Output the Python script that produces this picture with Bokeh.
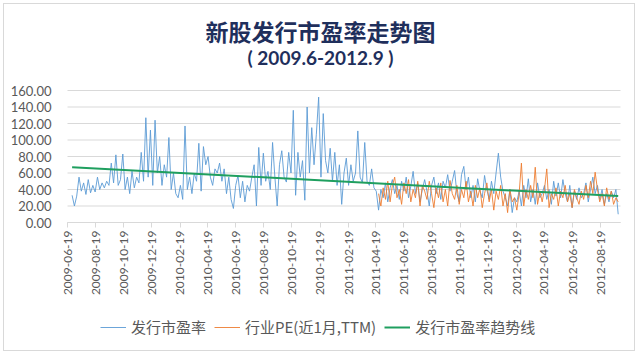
import math
from datetime import datetime, timedelta
import pandas as pd
from bokeh.plotting import figure
from bokeh.models import (FixedTicker, DatetimeTickFormatter, NumeralTickFormatter,
                          Range1d, Label, Legend, LegendItem)
from bokeh.embed import file_html
from bokeh.resources import INLINE

# ---------------- data ----------------
title_text = "新股发行市盈率走势图"
subtitle_text = "( 2009.6-2012.9 )"
series_names = ["发行市盈率", "行业PE(近1月,TTM)", "发行市盈率趋势线"]

x_tick_labels = ["2009-06-19", "2009-08-19", "2009-10-19", "2009-12-19",
                 "2010-02-19", "2010-04-19", "2010-06-19", "2010-08-19",
                 "2010-10-19", "2010-12-19", "2011-02-19", "2011-04-19",
                 "2011-06-19", "2011-08-19", "2011-10-19", "2011-12-19",
                 "2012-02-19", "2012-04-19", "2012-06-19", "2012-08-19"]
y_ticks = [0, 20, 40, 60, 80, 100, 120, 140, 160]
x_start, x_end = "2009-06-19", "2012-10-01"

ipo_pe_start = "2009-06-29"
ipo_pe = [
    33, 20, 32, 55, 38, 48, 34, 52, 36, 45, 37, 55, 40,
    48, 42, 50, 45,
    72, 48, 82, 45, 52, 83, 40,
    55, 35, 62, 42, 55, 48,
    85, 50, 127, 55, 112, 45, 124,
    60, 80, 45, 70, 55, 103, 40, 60, 35,
    30, 45, 28, 117, 40, 55, 35, 60, 50,
    96, 38, 92, 70, 80, 55, 45, 65,
    60, 72, 50, 65, 35, 55, 28, 17, 45, 57, 30,
    50, 25, 45, 38, 55, 70,
    20, 91, 45, 84, 50, 62, 40, 97, 55, 20, 70, 87, 55, 49, 85, 60, 136, 33, 85, 55, 75,
    27, 140, 60, 115, 70, 107, 152, 55, 132, 75, 60, 90, 50, 85, 45, 70, 22, 60, 78, 45,
    70, 50, 60, 111, 55, 48, 97, 50, 45, 65, 42, 38, 15, 40,
    30, 48, 25, 42, 52, 35, 45, 28, 50, 38, 55, 30, 44, 62, 35, 48, 25, 40, 52, 38,
    20, 45, 55, 35, 48, 28, 50, 42, 58, 38, 50, 63, 35, 25,
    58, 68, 40, 55, 30, 45, 25, 53, 38, 30, 57, 40, 28, 50, 35, 60, 84, 55, 38, 30,
    20, 40, 12, 30, 25, 38, 20, 45, 30, 53, 25, 40, 22, 48, 30,
    35, 45, 28, 40, 22, 50, 32, 48, 30, 52, 35, 25, 45, 18, 38, 28, 42, 30, 35, 48,
    25, 40, 55, 35, 45, 28, 40, 22, 35, 25, 38, 30, 40, 10,
]

# Industry P/E (near 1 month, TTM), sampled every 5 days
industry_pe_start = "2011-04-25"
industry_pe = [
    35, 20, 42, 28, 50, 25, 45, 55, 30, 40, 22,
    48, 35, 52, 25, 40, 30, 50, 20, 45, 38,
    28, 50, 35, 18, 42, 30, 48, 25, 40, 20,
    51, 35, 28, 45, 22, 40, 30, 50, 25, 38,
    20, 45, 30, 42, 18, 35, 48, 25, 40, 15,
    38, 28, 45, 20, 35, 12, 40, 25, 30, 15,
    35, 72, 20, 40, 28, 45, 30, 67, 22, 38,
    25, 40, 65, 18, 35, 28, 42, 20, 38, 30,
    45, 25, 35, 18, 40, 30, 22, 38, 28, 45,
    30, 50, 35, 61, 40, 25, 35, 20, 42, 28,
    38, 22, 30, 25,
]

# Linear trend line of IPO P/E (end points)
trend_values = [67.0, 32.0]

# ---------------- build ----------------
ipo_dates = pd.date_range(ipo_pe_start, periods=len(ipo_pe), freq="5D")
ind_dates = pd.date_range(industry_pe_start, periods=len(industry_pe), freq="5D")
trend_dates = [ipo_dates[0], ipo_dates[-1]]

LAT = "Lato, 'Noto Sans CJK SC', sans-serif"
CJK = "'Noto Sans CJK SC', sans-serif"
GRAY = "#595959"

W, H = 632, 348
PLOT_L, PLOT_R, PLOT_T, PLOT_B = 63, 616, 86, 218   # plot area in canvas pixels
xs = datetime.fromisoformat(x_start)
xe = datetime.fromisoformat(x_end)
days_per_px = (xe - xs).days / (PLOT_R - PLOT_L)
y_per_px = y_ticks[-1] / (PLOT_B - PLOT_T)

# The frame covers the whole canvas; both axes are pinned inside it, so that the
# titles, date labels and legend can all be placed freely.
p = figure(width=W, height=H, x_axis_type="datetime",
           output_backend="svg", toolbar_location=None,
           x_range=Range1d(xs - timedelta(days=PLOT_L * days_per_px),
                           xe + timedelta(days=(W - PLOT_R) * days_per_px)),
           y_range=Range1d(-(H - PLOT_B) * y_per_px, PLOT_B * y_per_px),
           min_border_left=0, min_border_right=0, min_border_top=0, min_border_bottom=0)
p.styles = {"margin": "3px", "border": "1px solid #D9D9D9"}
p.outline_line_color = None
p.background_fill_color = "white"
p.border_fill_color = "white"

xs_ms = pd.Timestamp(xs).value / 1e6
xe_ms = pd.Timestamp(xe).value / 1e6

# horizontal gridlines across the plot area only
p.segment(x0=[xs] * len(y_ticks), x1=[xe] * len(y_ticks), y0=y_ticks, y1=y_ticks,
          line_color="#D9D9D9", line_width=1)

r_ipo = p.line(ipo_dates, ipo_pe, line_color="#5B9BD5", line_width=0.9)
r_ind = p.line(ind_dates, industry_pe, line_color="#ED7D31", line_width=0.9)
r_trend = p.line(trend_dates, trend_values, line_color="#1F9F5F", line_width=2)

# axes
tick_ms = [pd.Timestamp(d).value // 10**6 for d in x_tick_labels]
p.xaxis.fixed_location = 0
p.xaxis.bounds = (xs_ms, xe_ms)
p.xaxis.ticker = FixedTicker(ticks=tick_ms)
fmt = "%Y-%m-%d"
p.xaxis.formatter = DatetimeTickFormatter(milliseconds=fmt, seconds=fmt, minsec=fmt,
                                          minutes=fmt, hourmin=fmt, hours=fmt,
                                          days=fmt, months=fmt, years=fmt)
p.xaxis.major_label_orientation = math.pi / 2
p.xaxis.axis_line_color = "#D9D9D9"
p.xaxis.major_tick_line_color = "#D9D9D9"
p.xaxis.major_tick_out = 5
p.xaxis.major_tick_in = 0
p.xaxis.minor_tick_line_color = None
p.xaxis.major_label_standoff = 3
p.xaxis.major_label_text_font = LAT
p.xaxis.major_label_text_font_size = "12px"
p.xaxis.major_label_text_color = GRAY

p.yaxis.fixed_location = xs_ms
p.yaxis.bounds = (0, y_ticks[-1])
p.yaxis.ticker = FixedTicker(ticks=y_ticks)
p.yaxis.formatter = NumeralTickFormatter(format="0.00")
p.yaxis.axis_line_color = None
p.yaxis.major_tick_line_color = None
p.yaxis.minor_tick_line_color = None
p.yaxis.major_label_standoff = 10
p.yaxis.major_label_text_font = LAT
p.yaxis.major_label_text_font_size = "13px"
p.yaxis.major_label_text_color = GRAY

p.xgrid.grid_line_color = None
p.ygrid.grid_line_color = None

# titles
p.add_layout(Label(x=316, y=H - 26, x_units="screen", y_units="screen", text=title_text,
                   text_align="center", text_baseline="middle", text_font=CJK,
                   text_font_size="23px", text_font_style="bold", text_color="#1F2F5C"))
p.add_layout(Label(x=316, y=H - 53, x_units="screen", y_units="screen", text=subtitle_text,
                   text_align="center", text_baseline="middle", text_font=LAT,
                   text_font_size="19px", text_font_style="bold", text_color="#1F2F5C"))

legend = Legend(items=[LegendItem(label=series_names[0], renderers=[r_ipo]),
                       LegendItem(label=series_names[1], renderers=[r_ind]),
                       LegendItem(label=series_names[2], renderers=[r_trend])],
                orientation="horizontal", location=(96, 15),
                border_line_color=None, background_fill_alpha=0,
                label_text_font=CJK, label_text_font_size="15px",
                label_text_color=GRAY, glyph_width=26, label_standoff=5,
                spacing=8, padding=0, margin=0)
p.add_layout(legend)

open("out.html", "w").write(file_html(p, INLINE))
